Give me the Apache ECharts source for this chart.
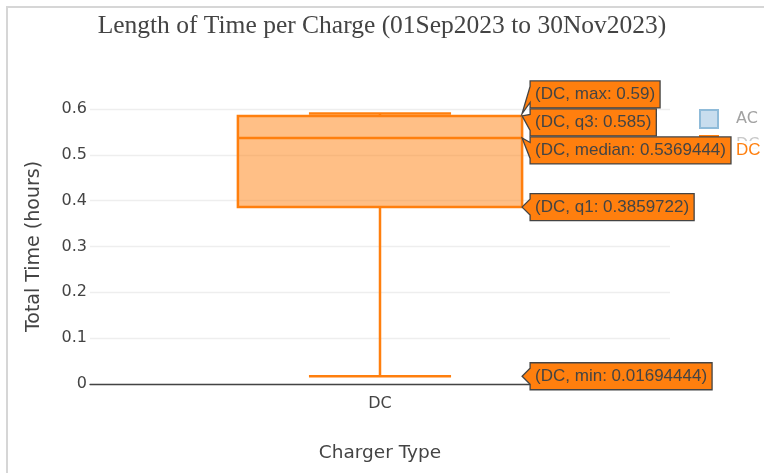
<!DOCTYPE html>
<html><head><meta charset="utf-8">
<script src="https://cdn.jsdelivr.net/npm/echarts@6/dist/echarts.min.js"></script>
<style>
html,body{margin:0;padding:0;background:#fff;}
#wrap{position:relative;width:764px;height:473px;overflow:hidden;}
#c{width:764px;height:473px;}
#frame{position:absolute;left:6px;top:6px;width:800px;height:500px;border-left:2px solid #d6d6d6;border-top:2px solid #d6d6d6;pointer-events:none;}
</style></head>
<body>
<div id="wrap"><div id="c"></div><div id="frame"></div></div>
<script>
// ---- data ----
const categories = ['DC'];
const legendNames = ['AC', 'DC'];
const statNames = ['min', 'q1', 'median', 'q3', 'max'];
const dcStats = [0.01694444, 0.3859722, 0.5369444, 0.585, 0.59];
const yTicks = [0, 0.1, 0.2, 0.3, 0.4, 0.5, 0.6];
const titleText = 'Length of Time per Charge (01Sep2023 to 30Nov2023)';

// ---- style ----
const ORANGE = '#ff7f0e';
const BOX_RATIO = 0.49;
const ARROW = 8;
const ROW = 28;
const LABEL_H = 27;
const PAD = 5;
const HOVER_FONT = '17px "Liberation Sans", Arial, sans-serif';
const AXIS_FONT = '"DejaVu Sans", Verdana, sans-serif';

const measureCtx = document.createElement('canvas').getContext('2d');
function textWidth(t, font) { measureCtx.font = font; return measureCtx.measureText(t).width; }

function stackLabels(tips, H) {
  let groups = tips.map((t, i) => ({ idx: [i] })).sort((a, b) => tips[a.idx[0]] - tips[b.idx[0]]);
  const place = g => {
    const m = g.idx.reduce((s, i) => s + tips[i], 0) / g.idx.length;
    g.top = m - g.idx.length * H / 2; g.bottom = m + g.idx.length * H / 2;
  };
  groups.forEach(place);
  let changed = true;
  while (changed) {
    changed = false;
    for (let k = 0; k < groups.length - 1; k++) {
      if (groups[k].bottom > groups[k + 1].top) {
        groups[k].idx = groups[k].idx.concat(groups[k + 1].idx);
        groups.splice(k + 1, 1); place(groups[k]); changed = true; break;
      }
    }
  }
  const centers = [];
  groups.forEach(g => {
    g.idx.slice().sort((a, b) => tips[a] - tips[b]).forEach((i, k) => { centers[i] = g.top + H * (k + 0.5); });
  });
  return centers;
}

function renderBox(params, api) {
  const x = api.value(0);
  const v = [1, 2, 3, 4, 5].map(d => api.value(d));
  const band = api.size([1, 0])[0];
  const boxW = band * BOX_RATIO, capW = boxW / 2;
  const cx = api.coord([x, v[0]])[0];
  const y = v.map(val => api.coord([x, val])[1]);
  const ls = { stroke: ORANGE, lineWidth: 2.5, fill: null };
  return {
    type: 'group',
    children: [
      { type: 'line', shape: { x1: cx, y1: y[1], x2: cx, y2: y[0] }, style: ls },
      { type: 'line', shape: { x1: cx, y1: y[3], x2: cx, y2: y[4] }, style: ls },
      { type: 'line', shape: { x1: cx - capW / 2, y1: y[0], x2: cx + capW / 2, y2: y[0] }, style: ls },
      { type: 'line', shape: { x1: cx - capW / 2, y1: y[4], x2: cx + capW / 2, y2: y[4] }, style: ls },
      { type: 'rect', shape: { x: cx - boxW / 2, y: y[3], width: boxW, height: y[1] - y[3] },
        style: { fill: 'rgba(255,127,14,0.5)', stroke: ORANGE, lineWidth: 2.5 } },
      { type: 'line', shape: { x1: cx - boxW / 2, y1: y[2], x2: cx + boxW / 2, y2: y[2] }, style: ls }
    ]
  };
}

function renderLabel(params, api) {
  const x = api.value(0);
  const idx = api.value(2);
  const band = api.size([1, 0])[0];
  const cx = api.coord([x, 0])[0];
  const tipX = cx + band * BOX_RATIO / 2;
  const tips = dcStats.map(val => api.coord([x, val])[1]);
  const centers = stackLabels(tips, ROW);
  const tipY = tips[idx], cy = centers[idx];
  const name = statNames[idx];
  const txt = '(' + categories[x] + ', ' + name + ': ' + api.value(1) + ')';
  const bx = textWidth(txt, HOVER_FONT) + 2 * PAD;
  const off = cy - tipY;
  const h2 = LABEL_H / 2;
  const pts = [
    [tipX, tipY],
    [tipX + ARROW, tipY + off + ARROW],
    [tipX + ARROW, tipY + off + h2],
    [tipX + ARROW + bx, tipY + off + h2],
    [tipX + ARROW + bx, tipY + off - h2],
    [tipX + ARROW, tipY + off - h2],
    [tipX + ARROW, tipY + off - ARROW]
  ];
  const children = [
    { type: 'polygon', shape: { points: pts }, style: { fill: ORANGE, stroke: '#444', lineWidth: 1.3 } },
    { type: 'text', x: tipX + ARROW + PAD, y: cy, style: { text: txt, fill: '#444', font: HOVER_FONT, verticalAlign: 'middle', align: 'left' } }
  ];
  if (name === 'median') {
    children.push({ type: 'text', x: tipX + ARROW + bx + 3, y: cy,
      style: { text: categories[x], fill: ORANGE, font: HOVER_FONT, verticalAlign: 'middle', align: 'left',
        backgroundColor: 'rgba(255,255,255,0.9)', padding: [1, 2, 1, 2] } });
  }
  return { type: 'group', children };
}

const chart = echarts.init(document.getElementById('c'), null, { renderer: 'canvas' });
chart.setOption({
  animation: false,
  backgroundColor: '#fff',
  title: {
    text: titleText, left: 'center', top: 8,
    textStyle: { fontFamily: '"Liberation Serif", "Times New Roman", serif', fontSize: 25.5, fontWeight: 'normal', color: '#444' }
  },
  legend: {
    orient: 'vertical', left: 699, top: 109, padding: 0, itemWidth: 18, itemHeight: 18, itemGap: 6, selectedMode: false,
    textStyle: { fontFamily: AXIS_FONT, fontSize: 16, color: '#444', padding: [0, 0, 0, 13] },
    data: [
      { name: legendNames[0], icon: 'rect', itemStyle: { color: '#c8ddee', borderColor: '#8fbbd9', borderWidth: 2 }, textStyle: { color: '#a2a2a2' } },
      { name: legendNames[1], icon: 'rect', itemStyle: { color: 'rgba(255,127,14,0.5)', borderColor: ORANGE, borderWidth: 2 }, textStyle: { color: '#c8c8c8' } }
    ]
  },
  grid: { left: 90, right: 94, top: 109, bottom: 89 },
  xAxis: {
    type: 'category', data: categories,
    axisLine: { lineStyle: { color: '#444', width: 1.3 } },
    axisTick: { show: false },
    axisLabel: { fontFamily: AXIS_FONT, fontSize: 16, color: '#444', margin: 12 },
    name: 'Charger Type', nameLocation: 'middle', nameGap: 60,
    nameTextStyle: { fontFamily: AXIS_FONT, fontSize: 18.5, color: '#444' }
  },
  yAxis: {
    type: 'value', min: yTicks[0], max: yTicks[yTicks.length - 1], interval: yTicks[1] - yTicks[0],
    axisLine: { show: false }, axisTick: { show: false },
    splitLine: { lineStyle: { color: '#eee', width: 1.3 } },
    axisLabel: { fontFamily: AXIS_FONT, fontSize: 16, color: '#444', margin: 3 },
    name: 'Total Time (hours)', nameLocation: 'middle', nameGap: 46,
    nameTextStyle: { fontFamily: AXIS_FONT, fontSize: 19, color: '#444' }
  },
  series: [
    { name: legendNames[0], type: 'custom', data: [], renderItem: renderBox, itemStyle: { color: '#1f77b4' } },
    { name: legendNames[1], type: 'custom', clip: false, z: 3, itemStyle: { color: ORANGE },
      data: [[0].concat(dcStats)], encode: { x: 0, y: [1, 2, 3, 4, 5] }, renderItem: renderBox },
    { name: 'hover', type: 'custom', clip: false, z: 20, silent: true,
      data: dcStats.map((val, i) => [0, val, i]), encode: { x: 0, y: 1 }, renderItem: renderLabel }
  ]
});
</script>
</body></html>
